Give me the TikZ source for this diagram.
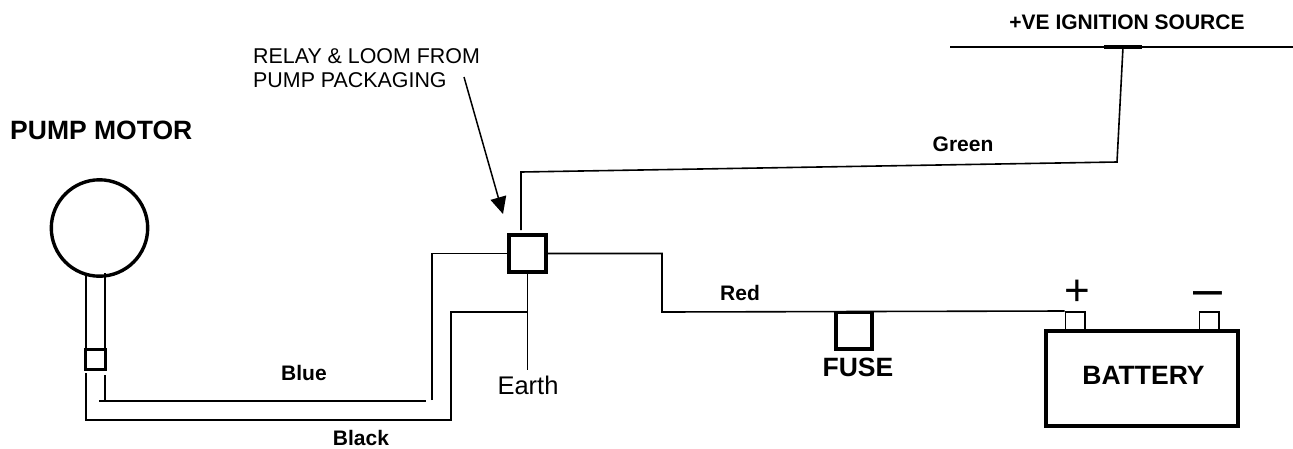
\documentclass[tikz,border=0pt]{standalone}
\usepackage{fontspec}
\setmainfont{Liberation Sans}
\usetikzlibrary{arrows.meta}

\begin{document}
\begin{tikzpicture}[x=1pt,y=-1pt,
					>={Triangle[length=17pt,width=16pt]},
					wire/.style={line width=1.6pt},
					part/.style={draw,line width=3.6pt,minimum size=36.4pt,inner sep=0pt},
					lug/.style={draw,wire,minimum width=19.4pt,minimum height=18.4pt,inner sep=0pt},
					label/.style={font=\bfseries\fontsize{21}{24}\selectfont,inner sep=0pt},
					title/.style={font=\bfseries\fontsize{26.5}{30}\selectfont,inner sep=0pt},
					plain/.style={font=\fontsize{25.5}{30}\selectfont,inner sep=0pt}]

  \useasboundingbox (0,0) rectangle (1293,448);

  % parts
  \node[circle,draw,line width=3.4pt,minimum size=96.4pt,inner sep=0pt] (motor) at (99.5,228) {};
  \node[part,minimum size=20pt,line width=3pt] (plug) at (95.5,359.5) {};
  \node[part,minimum size=37.4pt] (relay) at (527.5,253.5) {};
  \node[part] (fuse) at (854,330.5) {};
  \node[lug] (pos) at (1075,321) {};
  \node[lug] (neg) at (1209,321) {};
  \node[draw,line width=3.6pt,minimum width=192.4pt,minimum height=95.4pt,inner sep=0pt] (battery) at (1142,378.5) {};

  % ends of the wires
  \coordinate (busL) at (950,47);
  \coordinate (busR) at (1293,47);
  \coordinate (tap) at (1123,47);
  \coordinate (tail) at (464,77);
  \coordinate (head) at (503,214);

  % texts
  \node[title,anchor=west] (pumptext) at (10,130) {PUMP MOTOR};
  \node[title] (fusetext) at (858,367) {FUSE};
  \node[title] (batterytext) at (1143.5,375) {BATTERY};
  \node[label] (source) at (1127,22) {+VE IGNITION SOURCE};
  \node[label] (green) at (963,144) {Green};
  \node[label] (red) at (740,293) {Red};
  \node[label] (blue) at (304,373) {Blue};
  \node[label] (black) at (361,438) {Black};
  \node[plain] (earth) at (528,385) {Earth};
  \node[font=\fontsize{21.4}{24}\selectfont,anchor=north west,align=left,inner sep=0pt] (relaytext) at (253,48) {RELAY \& LOOM FROM\\PUMP PACKAGING};
  \node[font=\fontsize{44}{44}\selectfont,inner sep=0pt] (plus) at (1077,293) {+};
  \node[font=\fontsize{52}{52}\selectfont,inner sep=0pt] (minus) at (1207.5,299) {–};

  % wires
  \draw[wire] (86,276) -- (plug.north -| 86,0);
  \draw[wire] (105,273) -- (plug.north -| 105,0);
  \draw[wire] (86,373) |- (451,420) -- (451,312) -- (527.5,312);
  \draw[wire] (105,375) -- (105,401);
  \draw[wire] (99,401) -- (426,401);
  \draw[wire] (432,400) |- (relay.west);
  \draw[wire] (relay.south) -- (527.5,370);
  \draw[wire] (relay.east) -| (662,312) -- (pos.north west);
  \draw[wire] (521,230) -- (521,172) -- (1117,162) -- (tap);
  \draw[wire,line width=2pt] (busL) -- (busR);
  \draw[line width=4pt] (1104,47) -- (1142,47);
  \draw[->,line width=1.5pt] (tail) -- (head);
\end{tikzpicture}
\end{document}
